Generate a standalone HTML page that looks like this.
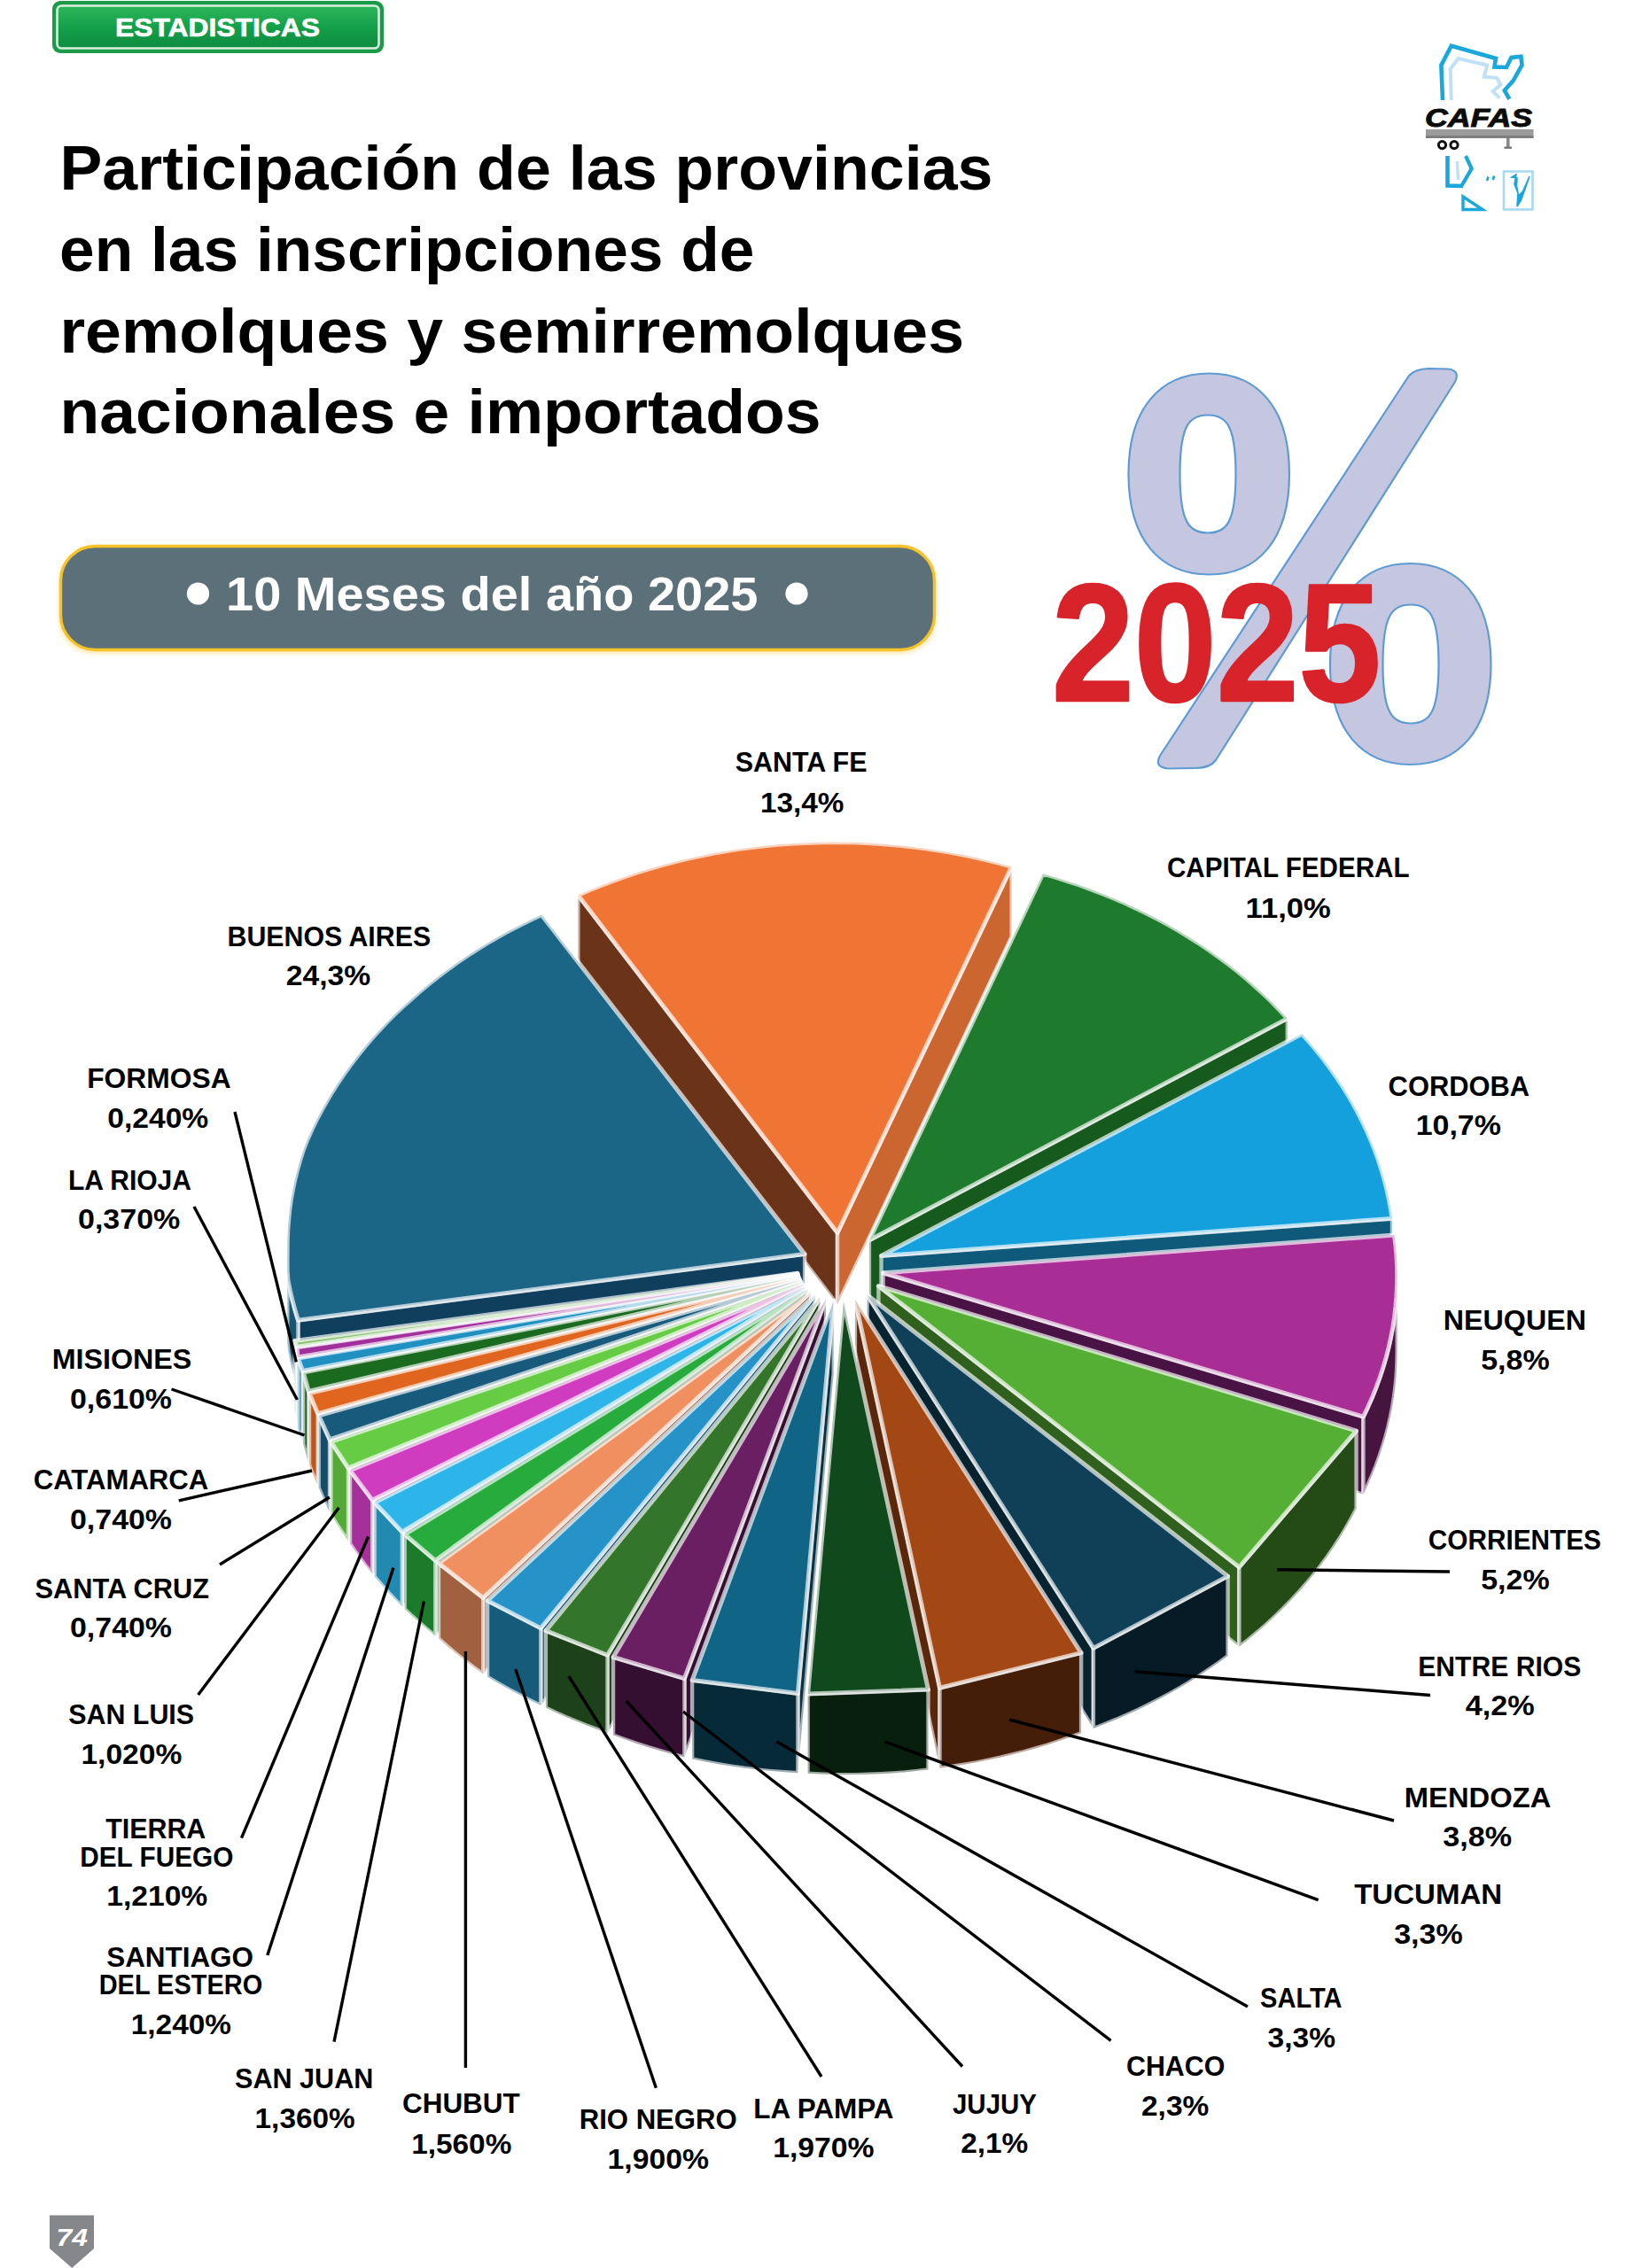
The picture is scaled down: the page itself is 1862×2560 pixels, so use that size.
<!DOCTYPE html>
<html><head><meta charset="utf-8"><title>Estadisticas</title>
<style>
html,body{margin:0;padding:0;background:#fff;}
body{width:1862px;height:2560px;overflow:hidden;font-family:"Liberation Sans",sans-serif;}
svg{display:block;}
</style></head><body>
<svg width="1862" height="2560" viewBox="0 0 1862 2560" font-family="Liberation Sans, sans-serif" font-weight="bold">
<defs>
<linearGradient id="gbadge" x1="0" y1="0" x2="0" y2="1"><stop offset="0" stop-color="#2FB65A"/><stop offset="0.5" stop-color="#13A04A"/><stop offset="1" stop-color="#0E8C40"/></linearGradient>
<filter id="soft" x="-5%" y="-20%" width="110%" height="140%"><feGaussianBlur stdDeviation="2.5"/></filter>
</defs>
<rect width="1862" height="2560" fill="#fff"/>

<rect x="59" y="1" width="374" height="59" rx="9" fill="#1B9A4A"/>
<rect x="64.5" y="6.5" width="363" height="48" rx="5" fill="url(#gbadge)" stroke="#D8F0DC" stroke-width="2.6"/>
<text x="130.0" y="41.4" font-size="30" textLength="231.0" lengthAdjust="spacingAndGlyphs" fill="#fff" stroke="#fff" stroke-width="0.6">ESTADISTICAS</text>
<text x="67.5" y="213.8" font-size="70.5" textLength="1053.0" lengthAdjust="spacingAndGlyphs" fill="#000" >Participación de las provincias</text>
<text x="67.0" y="305.5" font-size="70.5" textLength="784.5" lengthAdjust="spacingAndGlyphs" fill="#000" >en las inscripciones de</text>
<text x="67.5" y="397.5" font-size="70.5" textLength="1020.5" lengthAdjust="spacingAndGlyphs" fill="#000" >remolques y semirremolques</text>
<text x="67.5" y="489.0" font-size="70.5" textLength="859.0" lengthAdjust="spacingAndGlyphs" fill="#000" >nacionales e importados</text>
<rect x="66" y="617" width="991" height="121" rx="40" fill="#F5C228" opacity="0.35" filter="url(#soft)"/>
<rect x="68.5" y="616.5" width="986" height="117" rx="39" fill="#5C7079" stroke="#F5C229" stroke-width="3.4"/>
<text x="255.0" y="688.8" font-size="54.5" textLength="600.5" lengthAdjust="spacingAndGlyphs" fill="#fff" >10 Meses del año 2025</text>
<circle cx="223.5" cy="670" r="12.6" fill="#fff"/><circle cx="899" cy="670" r="12.6" fill="#fff"/>
<path fill-rule="evenodd" fill="#C5C6DF" stroke="#5E9BD3" stroke-width="2.2" stroke-linejoin="round" d="M1273.5,535 C1273.5,460 1310,421.5 1364.5,421.5 C1419,421.5 1455,460 1455,535 C1455,610 1419,648.5 1364.5,648.5 C1310,648.5 1273.5,610 1273.5,535 Z M1331.5,535 C1331.5,590 1342,601.5 1363,601.5 C1384,601.5 1394.5,590 1394.5,535 C1394.5,480 1384,468.5 1363,468.5 C1342,468.5 1331.5,480 1331.5,535 Z"/>
<path fill="#C5C6DF" stroke="#5E9BD3" stroke-width="2.2" stroke-linejoin="round" d="M1590,424 Q1597,416.5 1612,416 L1634,416.5 Q1648,418 1642,431 L1372,858 Q1366,866.5 1350,867 L1318,867.5 Q1302,866 1309,853 Z"/>
<path fill-rule="evenodd" fill="#C5C6DF" stroke="#5E9BD3" stroke-width="2.2" stroke-linejoin="round" d="M1501,749.5 C1501,674.5 1537,636 1591.5,636 C1646,636 1682.5,674.5 1682.5,749.5 C1682.5,824.5 1646,863 1591.5,863 C1537,863 1501,824.5 1501,749.5 Z M1560.5,749.5 C1560.5,805 1571,816.5 1592,816.5 C1613,816.5 1623.5,805 1623.5,749.5 C1623.5,694 1613,682.5 1592,682.5 C1571,682.5 1560.5,694 1560.5,749.5 Z"/>
<text x="1187.0" y="791.2" font-size="190" textLength="371.5" lengthAdjust="spacingAndGlyphs" fill="#D8232A" stroke="#D8232A" stroke-width="2.6" stroke-linejoin="round">2025</text>
<g fill="none" stroke-linejoin="miter">
<polyline points="1637.8,113 1636.7,78 1645.5,66 1678.2,73.6 1674.9,86.7 1689,87.8 1693.5,95.5 1684.7,103 1692.4,110.7" stroke="#BFE1F3" stroke-width="4"/>
<polyline points="1628,113 1626.4,73.6 1637.8,51.8 1688,66 1686.4,75.5 1700,76 1705.5,64.9 1716.4,63.8 1717.5,73.6 1707.6,91.1 1697.8,102 1703.3,111.8" stroke="#19A7DC" stroke-width="4.6"/>
<polyline points="1633.5,176 1633.5,209.5 1651,210" stroke="#19A7DC" stroke-width="4.6"/>
<polyline points="1654,176 1660.7,190.4 1649.8,209" stroke="#19A7DC" stroke-width="4.2"/>
<line x1="1644.4" y1="182" x2="1645.5" y2="203" stroke="#BFE1F3" stroke-width="3.5"/>
<polygon points="1651,222 1651,236.5 1673,236.5" stroke="#19A7DC" stroke-width="3.4"/>
<line x1="1679.5" y1="199.5" x2="1678" y2="204" stroke="#19A7DC" stroke-width="2.6"/>
<line x1="1686.2" y1="198.5" x2="1684.7" y2="203" stroke="#19A7DC" stroke-width="2.6"/>
<rect x="1697" y="193.5" width="32.5" height="43" stroke="#A9D9F1" stroke-width="2.6"/>
<polygon points="1706,200 1711,197 1709,208 1713,218 1712,233 1716.5,226 1726,199 1718.5,216 1713.5,221 1711.5,210 1712,201" fill="#19A7DC" stroke="#19A7DC" stroke-width="1.6"/>
</g>
<rect x="1609" y="146" width="121.5" height="10" fill="#9B9B9B"/><rect x="1609" y="153" width="121.5" height="3" fill="#7E7E7E"/>
<rect x="1700" y="156" width="3.6" height="11" fill="#8A8A8A"/><rect x="1697.5" y="165.5" width="8.5" height="2.4" fill="#777"/>
<circle cx="1627.5" cy="163.6" r="4.1" fill="#fff" stroke="#111" stroke-width="3"/><circle cx="1641" cy="163.6" r="4.1" fill="#fff" stroke="#111" stroke-width="3"/>

<text x="1608.0" y="142.6" font-size="30" textLength="121.0" lengthAdjust="spacingAndGlyphs" fill="#0c0c0c" font-style="italic" stroke="#0c0c0c" stroke-width="0.9">CAFAS</text>
<polygon points="56,2500.5 106,2500.5 106,2538 81.3,2560 56,2538" fill="#85878A"/>
<text x="63.5" y="2535.3" font-size="27.5" textLength="35.5" lengthAdjust="spacingAndGlyphs" fill="#fff" font-style="italic">74</text>
<g id="pie"><polygon points="945.0,1391.6 652.3,1010.4 652.3,1089.4 945.0,1472.5" fill="#6B3318" stroke="#fff" stroke-opacity="0.62" stroke-width="4.4" stroke-linejoin="round"/>
<polygon points="945.0,1391.6 1141.6,978.3 1141.6,1057.3 945.0,1472.5" fill="#CC6630" stroke="#fff" stroke-opacity="0.62" stroke-width="4.4" stroke-linejoin="round"/>
<polygon points="980.9,1400.0 1452.8,1149.6 1452.8,1228.9 980.9,1481.2" fill="#165A1E" stroke="#fff" stroke-opacity="0.62" stroke-width="4.4" stroke-linejoin="round"/>
<polygon points="908.1,1415.6 336.4,1490.2 336.4,1569.7 908.1,1496.7" fill="#0F3F5C" stroke="#fff" stroke-opacity="0.62" stroke-width="4.4" stroke-linejoin="round"/>
<polygon points="336.4,1490.2 333.1,1479.6 330.2,1468.8 327.6,1458.0 325.4,1447.1 324.2,1436.1 324.0,1425.1 324.3,1414.1 324.3,1493.1 324.0,1504.1 324.2,1515.1 325.4,1526.1 327.6,1537.0 330.2,1547.8 333.1,1558.8 336.4,1569.7" fill="#175673" stroke="#fff" stroke-opacity="0.62" stroke-width="4.4" stroke-linejoin="round"/>
<polygon points="994.5,1417.5 1571.0,1375.4 1571.0,1459.3 994.5,1499.1" fill="#0F5A7A" stroke="#fff" stroke-opacity="0.62" stroke-width="4.4" stroke-linejoin="round"/>
<polygon points="996.6,1436.8 1538.5,1599.2 1538.5,1686.8 996.6,1518.7" fill="#4A1345" stroke="#fff" stroke-opacity="0.62" stroke-width="4.4" stroke-linejoin="round"/>
<polygon points="1576.7,1435.7 1576.6,1446.8 1576.2,1458.0 1575.5,1469.1 1574.4,1480.2 1572.9,1491.2 1571.1,1502.3 1568.9,1513.3 1566.3,1524.2 1563.4,1535.2 1560.1,1546.0 1556.5,1556.8 1552.5,1567.5 1548.2,1578.2 1543.5,1588.7 1538.5,1599.2 1538.5,1686.8 1543.5,1676.2 1548.2,1665.5 1552.5,1654.7 1556.5,1643.8 1560.1,1632.8 1563.4,1621.8 1566.3,1610.7 1568.9,1599.5 1571.1,1588.4 1572.9,1577.1 1574.4,1565.9 1575.5,1554.6 1576.2,1543.3 1576.6,1532.0 1576.7,1520.7" fill="#47133F" stroke="#fff" stroke-opacity="0.62" stroke-width="4.4" stroke-linejoin="round"/>
<polygon points="900.0,1437.2 334.9,1520.1 334.9,1600.1 900.0,1518.7" fill="#446038" stroke="#fff" stroke-opacity="0.62" stroke-width="4.4" stroke-linejoin="round"/>
<polygon points="334.9,1520.1 332.6,1513.4 332.6,1593.2 334.9,1600.1" fill="#74A35F" stroke="#fff" stroke-opacity="0.62" stroke-width="4.4" stroke-linejoin="round"/>
<polygon points="900.1,1438.0 336.1,1531.9 336.1,1612.1 900.1,1519.5" fill="#50184D" stroke="#fff" stroke-opacity="0.62" stroke-width="4.4" stroke-linejoin="round"/>
<polygon points="336.1,1531.9 335.1,1520.9 335.1,1600.9 336.1,1612.1" fill="#882983" stroke="#fff" stroke-opacity="0.62" stroke-width="4.4" stroke-linejoin="round"/>
<polygon points="900.5,1439.1 341.6,1547.5 341.6,1628.0 900.5,1520.6" fill="#104860" stroke="#fff" stroke-opacity="0.62" stroke-width="4.4" stroke-linejoin="round"/>
<polygon points="341.6,1547.5 336.4,1533.1 336.4,1613.3 338.9,1620.6 341.6,1628.0" fill="#1B7AA3" stroke="#fff" stroke-opacity="0.62" stroke-width="4.4" stroke-linejoin="round"/>
<polygon points="901.0,1440.7 348.2,1570.5 348.2,1651.5 901.0,1522.2" fill="#0D3510" stroke="#fff" stroke-opacity="0.62" stroke-width="4.4" stroke-linejoin="round"/>
<polygon points="348.2,1570.5 342.2,1549.0 342.2,1629.5 345.0,1640.5 348.2,1651.5" fill="#165A1B" stroke="#fff" stroke-opacity="0.62" stroke-width="4.4" stroke-linejoin="round"/>
<polygon points="901.8,1442.6 358.7,1595.6 358.7,1677.0 901.8,1524.2" fill="#70320F" stroke="#fff" stroke-opacity="0.62" stroke-width="4.4" stroke-linejoin="round"/>
<polygon points="358.7,1595.6 349.0,1572.5 349.0,1653.4 352.0,1661.3 355.3,1669.2 358.7,1677.0" fill="#BE561A" stroke="#fff" stroke-opacity="0.62" stroke-width="4.4" stroke-linejoin="round"/>
<polygon points="902.8,1444.8 372.0,1624.9 372.0,1706.9 902.8,1526.4" fill="#0C2D3E" stroke="#fff" stroke-opacity="0.62" stroke-width="4.4" stroke-linejoin="round"/>
<polygon points="372.0,1624.9 359.7,1597.8 359.7,1679.2 363.6,1688.5 367.6,1697.7 372.0,1706.9" fill="#144C69" stroke="#fff" stroke-opacity="0.62" stroke-width="4.4" stroke-linejoin="round"/>
<polygon points="904.2,1447.2 393.0,1657.0 393.0,1739.6 904.2,1528.9" fill="#336622" stroke="#fff" stroke-opacity="0.62" stroke-width="4.4" stroke-linejoin="round"/>
<polygon points="393.0,1657.0 373.4,1627.4 373.4,1709.4 379.6,1719.6 386.2,1729.7 393.0,1739.6" fill="#55A938" stroke="#fff" stroke-opacity="0.62" stroke-width="4.4" stroke-linejoin="round"/>
<polygon points="906.1,1450.0 420.2,1693.2 420.2,1776.6 906.1,1531.7" fill="#681E60" stroke="#fff" stroke-opacity="0.62" stroke-width="4.4" stroke-linejoin="round"/>
<polygon points="420.2,1693.2 395.0,1659.7 395.0,1742.4 400.9,1751.1 407.1,1759.7 413.5,1768.2 420.2,1776.6" fill="#A53099" stroke="#fff" stroke-opacity="0.62" stroke-width="4.4" stroke-linejoin="round"/>
<polygon points="991.4,1451.6 1398.4,1768.9 1398.4,1858.8 991.4,1533.8" fill="#2F601D" stroke="#fff" stroke-opacity="0.62" stroke-width="4.4" stroke-linejoin="round"/>
<polygon points="1530.6,1615.1 1398.4,1768.9 1398.4,1858.8 1409.0,1850.4 1419.4,1841.8 1429.4,1833.1 1439.1,1824.1 1448.6,1814.9 1457.7,1805.6 1466.5,1796.0 1475.0,1786.3 1483.2,1776.4 1491.0,1766.3 1498.5,1756.1 1505.6,1745.8 1512.4,1735.3 1518.8,1724.6 1524.9,1713.8 1530.6,1702.9" fill="#244A16" stroke="#fff" stroke-opacity="0.62" stroke-width="4.4" stroke-linejoin="round"/>
<polygon points="908.6,1452.9 453.8,1729.2 453.8,1813.4 908.6,1534.6" fill="#165A75" stroke="#fff" stroke-opacity="0.62" stroke-width="4.4" stroke-linejoin="round"/>
<polygon points="453.8,1729.2 422.6,1696.0 422.6,1779.5 430.1,1788.2 437.7,1796.8 445.7,1805.2 453.8,1813.4" fill="#2289B1" stroke="#fff" stroke-opacity="0.62" stroke-width="4.4" stroke-linejoin="round"/>
<polygon points="911.4,1455.6 491.2,1761.4 491.2,1846.4 911.4,1537.4" fill="#14561E" stroke="#fff" stroke-opacity="0.62" stroke-width="4.4" stroke-linejoin="round"/>
<polygon points="491.2,1761.4 456.7,1731.9 456.7,1816.2 465.0,1824.0 473.5,1831.6 482.3,1839.1 491.2,1846.4" fill="#1C7B2B" stroke="#fff" stroke-opacity="0.62" stroke-width="4.4" stroke-linejoin="round"/>
<polygon points="915.1,1458.6 545.2,1803.6 545.2,1889.6 915.1,1540.5" fill="#784830" stroke="#fff" stroke-opacity="0.62" stroke-width="4.4" stroke-linejoin="round"/>
<polygon points="545.2,1803.6 495.0,1764.4 495.0,1849.5 504.5,1857.9 514.3,1866.1 524.3,1874.1 534.7,1882.0 545.2,1889.6" fill="#A16140" stroke="#fff" stroke-opacity="0.62" stroke-width="4.4" stroke-linejoin="round"/>
<polygon points="920.0,1461.6 610.3,1837.9 610.3,1924.9 920.0,1543.6" fill="#124A64" stroke="#fff" stroke-opacity="0.62" stroke-width="4.4" stroke-linejoin="round"/>
<polygon points="610.3,1837.9 550.1,1806.7 550.1,1892.8 561.7,1899.7 573.6,1906.3 585.6,1912.8 597.9,1918.9 610.3,1924.9" fill="#175B7B" stroke="#fff" stroke-opacity="0.62" stroke-width="4.4" stroke-linejoin="round"/>
<polygon points="978.6,1461.8 1233.9,1860.4 1233.9,1951.0 978.6,1544.1" fill="#082330" stroke="#fff" stroke-opacity="0.62" stroke-width="4.4" stroke-linejoin="round"/>
<polygon points="1385.6,1779.1 1233.9,1860.4 1233.9,1951.0 1246.6,1946.1 1259.3,1940.9 1271.7,1935.5 1284.0,1929.9 1296.1,1924.0 1308.0,1918.0 1319.8,1911.6 1331.3,1905.1 1342.6,1898.3 1353.7,1891.3 1364.5,1884.1 1375.2,1876.7 1385.6,1869.1" fill="#061B25" stroke="#fff" stroke-opacity="0.62" stroke-width="4.4" stroke-linejoin="round"/>
<polygon points="925.5,1464.3 685.5,1868.3 685.5,1956.2 925.5,1546.3" fill="#1A3A15" stroke="#fff" stroke-opacity="0.62" stroke-width="4.4" stroke-linejoin="round"/>
<polygon points="685.5,1868.3 615.9,1840.6 615.9,1927.6 627.1,1932.9 638.5,1938.0 650.1,1942.8 661.8,1947.5 673.6,1951.9 685.5,1956.2" fill="#1D4118" stroke="#fff" stroke-opacity="0.62" stroke-width="4.4" stroke-linejoin="round"/>
<polygon points="932.0,1466.5 772.4,1894.7 772.4,1983.5 932.0,1548.7" fill="#361032" stroke="#fff" stroke-opacity="0.62" stroke-width="4.4" stroke-linejoin="round"/>
<polygon points="772.4,1894.7 692.0,1870.5 692.0,1958.5 705.1,1963.3 718.2,1967.9 731.6,1972.2 745.1,1976.2 758.7,1980.0 772.4,1983.5" fill="#350F31" stroke="#fff" stroke-opacity="0.62" stroke-width="4.4" stroke-linejoin="round"/>
<polygon points="964.9,1467.1 1060.5,1905.2 1060.5,1995.7 964.9,1549.4" fill="#5A270B" stroke="#fff" stroke-opacity="0.62" stroke-width="4.4" stroke-linejoin="round"/>
<polygon points="1220.1,1865.6 1060.5,1905.2 1060.5,1995.7 1074.3,1993.8 1088.0,1991.7 1101.7,1989.3 1115.3,1986.6 1128.8,1983.7 1142.2,1980.5 1155.5,1977.1 1168.7,1973.4 1181.8,1969.5 1194.7,1965.3 1207.5,1960.9 1220.1,1956.3" fill="#441E08" stroke="#fff" stroke-opacity="0.62" stroke-width="4.4" stroke-linejoin="round"/>
<polygon points="940.7,1468.3 900.4,1911.5 900.4,2001.2 940.7,1550.5" fill="#083244" stroke="#fff" stroke-opacity="0.62" stroke-width="4.4" stroke-linejoin="round"/>
<polygon points="900.4,1911.5 781.1,1896.6 781.1,1985.4 795.8,1988.5 810.5,1991.2 825.4,1993.6 840.3,1995.8 855.3,1997.6 870.3,1999.1 885.3,2000.3 900.4,2001.2" fill="#072A39" stroke="#fff" stroke-opacity="0.62" stroke-width="4.4" stroke-linejoin="round"/>
<polygon points="1047.5,1907.1 911.6,1912.0 911.6,2001.8 925.2,2002.5 938.8,2003.0 952.5,2003.2 966.1,2003.1 979.7,2002.8 993.3,2002.2 1006.9,2001.4 1020.5,2000.4 1034.0,1999.1 1047.5,1997.5" fill="#071F0C" stroke="#fff" stroke-opacity="0.62" stroke-width="4.4" stroke-linejoin="round"/>
<polygon points="945.0,1391.6 652.3,1010.4 665.3,1004.7 678.6,999.4 691.9,994.3 705.5,989.4 719.2,984.8 733.1,980.6 747.1,976.5 761.2,972.8 775.5,969.4 789.8,966.2 804.3,963.3 818.8,960.7 833.5,958.4 848.2,956.4 862.9,954.7 877.8,953.3 892.6,952.2 907.5,951.4 922.4,950.9 937.3,950.6 952.2,950.7 967.1,951.1 982.0,951.7 996.9,952.7 1011.7,953.9 1026.4,955.5 1041.1,957.3 1055.8,959.5 1070.3,961.9 1084.8,964.6 1099.2,967.6 1113.4,970.9 1127.6,974.4 1141.6,978.3" fill="#F07535" stroke="#fff" stroke-opacity="0.68" stroke-width="5" stroke-linejoin="round"/>
<polygon points="980.9,1400.0 1176.9,986.2 1190.7,990.2 1204.4,994.5 1217.9,999.0 1231.2,1003.8 1244.4,1008.9 1257.4,1014.2 1270.3,1019.8 1282.9,1025.7 1295.3,1031.7 1307.6,1038.1 1319.6,1044.6 1331.4,1051.4 1342.9,1058.5 1354.2,1065.7 1365.3,1073.2 1376.1,1080.9 1386.7,1088.8 1397.0,1096.9 1407.0,1105.2 1416.8,1113.8 1426.2,1122.5 1435.4,1131.3 1444.2,1140.4 1452.8,1149.6" fill="#1E7A2C" stroke="#fff" stroke-opacity="0.68" stroke-width="5" stroke-linejoin="round"/>
<polygon points="994.5,1417.5 1469.2,1167.0 1477.5,1176.2 1485.5,1185.7 1493.1,1195.2 1500.4,1205.0 1507.4,1214.8 1514.1,1224.8 1520.5,1235.0 1526.5,1245.2 1532.1,1255.6 1537.4,1266.1 1542.4,1276.7 1547.0,1287.3 1551.3,1298.1 1555.2,1309.0 1558.7,1319.9 1561.9,1330.9 1564.7,1342.0 1567.2,1353.1 1569.3,1364.2 1571.0,1375.4" fill="#14A0DC" stroke="#fff" stroke-opacity="0.68" stroke-width="5" stroke-linejoin="round"/>
<polygon points="996.6,1436.8 1573.5,1394.1 1574.9,1405.6 1575.9,1417.1 1576.5,1428.7 1576.7,1440.3 1576.5,1451.9 1575.9,1463.5 1574.9,1475.0 1573.6,1486.6 1571.8,1498.1 1569.6,1509.6 1567.1,1521.0 1564.2,1532.4 1560.8,1543.7 1557.1,1555.0 1553.0,1566.2 1548.6,1577.3 1543.7,1588.3 1538.5,1599.2" fill="#A82E96" stroke="#fff" stroke-opacity="0.68" stroke-width="5" stroke-linejoin="round"/>
<polygon points="991.4,1451.6 1530.6,1615.1 1398.4,1768.9" fill="#55AF35" stroke="#fff" stroke-opacity="0.68" stroke-width="5" stroke-linejoin="round"/>
<polygon points="978.6,1461.8 1385.6,1779.1 1233.9,1860.4" fill="#0F4058" stroke="#fff" stroke-opacity="0.68" stroke-width="5" stroke-linejoin="round"/>
<polygon points="964.9,1467.1 1220.1,1865.6 1060.5,1905.2" fill="#A34714" stroke="#fff" stroke-opacity="0.68" stroke-width="5" stroke-linejoin="round"/>
<polygon points="951.9,1468.9 1047.5,1907.1 911.6,1912.0" fill="#10491C" stroke="#fff" stroke-opacity="0.68" stroke-width="5" stroke-linejoin="round"/>
<polygon points="940.7,1468.3 900.4,1911.5 781.1,1896.6" fill="#106587" stroke="#fff" stroke-opacity="0.68" stroke-width="5" stroke-linejoin="round"/>
<polygon points="932.0,1466.5 772.4,1894.7 692.0,1870.5" fill="#6B1F63" stroke="#fff" stroke-opacity="0.68" stroke-width="5" stroke-linejoin="round"/>
<polygon points="925.5,1464.3 685.5,1868.3 615.9,1840.6" fill="#33752A" stroke="#fff" stroke-opacity="0.68" stroke-width="5" stroke-linejoin="round"/>
<polygon points="920.0,1461.6 610.3,1837.9 550.1,1806.7" fill="#2593C8" stroke="#fff" stroke-opacity="0.68" stroke-width="5" stroke-linejoin="round"/>
<polygon points="915.1,1458.6 545.2,1803.6 495.0,1764.4" fill="#F09060" stroke="#fff" stroke-opacity="0.68" stroke-width="5" stroke-linejoin="round"/>
<polygon points="911.4,1455.6 491.2,1761.4 456.7,1731.9" fill="#27AB3C" stroke="#fff" stroke-opacity="0.68" stroke-width="5" stroke-linejoin="round"/>
<polygon points="908.6,1452.9 453.8,1729.2 422.6,1696.0" fill="#2DB5EA" stroke="#fff" stroke-opacity="0.68" stroke-width="5" stroke-linejoin="round"/>
<polygon points="906.1,1450.0 420.2,1693.2 395.0,1659.7" fill="#D03CC0" stroke="#fff" stroke-opacity="0.68" stroke-width="5" stroke-linejoin="round"/>
<polygon points="904.2,1447.2 393.0,1657.0 373.4,1627.4" fill="#66CC44" stroke="#fff" stroke-opacity="0.68" stroke-width="5" stroke-linejoin="round"/>
<polygon points="902.8,1444.8 372.0,1624.9 359.7,1597.8" fill="#175A7C" stroke="#fff" stroke-opacity="0.68" stroke-width="5" stroke-linejoin="round"/>
<polygon points="901.8,1442.6 358.7,1595.6 349.0,1572.5" fill="#E0651E" stroke="#fff" stroke-opacity="0.68" stroke-width="5" stroke-linejoin="round"/>
<polygon points="901.0,1440.7 348.2,1570.5 342.2,1549.0" fill="#1A6A20" stroke="#fff" stroke-opacity="0.68" stroke-width="5" stroke-linejoin="round"/>
<polygon points="900.5,1439.1 341.6,1547.5 336.4,1533.1" fill="#2090C0" stroke="#fff" stroke-opacity="0.68" stroke-width="5" stroke-linejoin="round"/>
<polygon points="900.1,1438.0 336.1,1531.9 335.1,1520.9" fill="#A0309A" stroke="#fff" stroke-opacity="0.68" stroke-width="5" stroke-linejoin="round"/>
<polygon points="900.0,1437.2 334.9,1520.1 332.6,1513.4" fill="#88C070" stroke="#fff" stroke-opacity="0.68" stroke-width="5" stroke-linejoin="round"/>
<polygon points="908.1,1415.6 336.4,1490.2 333.0,1479.1 330.0,1467.9 327.3,1456.6 325.0,1445.2 324.1,1433.8 324.1,1422.3 324.2,1410.8 324.3,1399.3 324.8,1387.9 325.7,1376.4 326.9,1364.9 328.5,1353.5 330.6,1342.1 333.0,1330.8 335.9,1319.5 339.1,1308.3 342.7,1297.1 347.0,1286.1 351.9,1275.2 357.1,1264.4 362.7,1253.8 368.6,1243.2 374.8,1232.8 381.4,1222.5 388.3,1212.3 395.5,1202.3 403.0,1192.4 410.8,1182.7 418.9,1173.1 427.3,1163.7 436.1,1154.4 445.1,1145.3 454.4,1136.5 464.1,1127.8 473.9,1119.2 483.9,1110.8 494.3,1102.6 504.9,1094.6 515.7,1086.8 526.8,1079.2 538.2,1071.8 549.8,1064.7 561.6,1057.8 573.7,1051.1 586.0,1044.7 598.5,1038.6 611.2,1032.6" fill="#1B6587" stroke="#fff" stroke-opacity="0.68" stroke-width="5" stroke-linejoin="round"/></g>
<line x1="265" y1="1255" x2="334.3" y2="1537.4" stroke="#000" stroke-width="3.4" stroke-linecap="butt"/>
<line x1="219" y1="1362" x2="335.4" y2="1580" stroke="#000" stroke-width="3.4" stroke-linecap="butt"/>
<line x1="193.5" y1="1568" x2="343.5" y2="1620" stroke="#000" stroke-width="3.4" stroke-linecap="butt"/>
<line x1="201.8" y1="1693.8" x2="352" y2="1660" stroke="#000" stroke-width="3.4" stroke-linecap="butt"/>
<line x1="248" y1="1766" x2="371.9" y2="1690" stroke="#000" stroke-width="3.4" stroke-linecap="butt"/>
<line x1="223.6" y1="1913" x2="382.4" y2="1701.7" stroke="#000" stroke-width="3.4" stroke-linecap="butt"/>
<line x1="272.5" y1="2074.7" x2="415.5" y2="1734.5" stroke="#000" stroke-width="3.4" stroke-linecap="butt"/>
<line x1="301.8" y1="2207" x2="443.9" y2="1769.6" stroke="#000" stroke-width="3.4" stroke-linecap="butt"/>
<line x1="377" y1="2304.7" x2="478.4" y2="1807.5" stroke="#000" stroke-width="3.4" stroke-linecap="butt"/>
<line x1="525.4" y1="2334" x2="525.4" y2="1864" stroke="#000" stroke-width="3.4" stroke-linecap="butt"/>
<line x1="740.3" y1="2356.7" x2="581.8" y2="1884" stroke="#000" stroke-width="3.4" stroke-linecap="butt"/>
<line x1="927" y1="2344" x2="641.8" y2="1892" stroke="#000" stroke-width="3.4" stroke-linecap="butt"/>
<line x1="1086" y1="2332.5" x2="706.7" y2="1920" stroke="#000" stroke-width="3.4" stroke-linecap="butt"/>
<line x1="1253.6" y1="2303.4" x2="771" y2="1932" stroke="#000" stroke-width="3.4" stroke-linecap="butt"/>
<line x1="1408" y1="2265" x2="876.5" y2="1966" stroke="#000" stroke-width="3.4" stroke-linecap="butt"/>
<line x1="1487.7" y1="2144.7" x2="998.7" y2="1966" stroke="#000" stroke-width="3.4" stroke-linecap="butt"/>
<line x1="1573" y1="2055" x2="1139" y2="1941" stroke="#000" stroke-width="3.4" stroke-linecap="butt"/>
<line x1="1614" y1="1913.5" x2="1280.4" y2="1886.7" stroke="#000" stroke-width="3.4" stroke-linecap="butt"/>
<line x1="1636" y1="1774" x2="1441.3" y2="1771.8" stroke="#000" stroke-width="3.4" stroke-linecap="butt"/>
<text x="256.6" y="1068.0" font-size="31" textLength="229.5" lengthAdjust="spacingAndGlyphs" fill="#000" >BUENOS AIRES</text>
<text x="322.8" y="1112.3" font-size="31" textLength="95.5" lengthAdjust="spacingAndGlyphs" fill="#000" >24,3%</text>
<text x="98.2" y="1228.0" font-size="31" textLength="162.5" lengthAdjust="spacingAndGlyphs" fill="#000" >FORMOSA</text>
<text x="121.2" y="1273.0" font-size="31" textLength="114.1" lengthAdjust="spacingAndGlyphs" fill="#000" >0,240%</text>
<text x="77.0" y="1343.0" font-size="31" textLength="139.0" lengthAdjust="spacingAndGlyphs" fill="#000" >LA RIOJA</text>
<text x="88.0" y="1387.0" font-size="31" textLength="115.3" lengthAdjust="spacingAndGlyphs" fill="#000" >0,370%</text>
<text x="58.7" y="1545.0" font-size="31" textLength="157.6" lengthAdjust="spacingAndGlyphs" fill="#000" >MISIONES</text>
<text x="79.0" y="1589.7" font-size="31" textLength="115.0" lengthAdjust="spacingAndGlyphs" fill="#000" >0,610%</text>
<text x="37.7" y="1681.0" font-size="31" textLength="197.6" lengthAdjust="spacingAndGlyphs" fill="#000" >CATAMARCA</text>
<text x="79.0" y="1726.0" font-size="31" textLength="115.0" lengthAdjust="spacingAndGlyphs" fill="#000" >0,740%</text>
<text x="39.5" y="1803.9" font-size="31" textLength="196.5" lengthAdjust="spacingAndGlyphs" fill="#000" >SANTA CRUZ</text>
<text x="79.0" y="1848.0" font-size="31" textLength="115.0" lengthAdjust="spacingAndGlyphs" fill="#000" >0,740%</text>
<text x="77.2" y="1946.0" font-size="31" textLength="141.9" lengthAdjust="spacingAndGlyphs" fill="#000" >SAN LUIS</text>
<text x="91.4" y="1990.5" font-size="31" textLength="113.9" lengthAdjust="spacingAndGlyphs" fill="#000" >1,020%</text>
<text x="119.2" y="2075.4" font-size="31" textLength="113.1" lengthAdjust="spacingAndGlyphs" fill="#000" >TIERRA</text>
<text x="90.2" y="2106.6" font-size="31" textLength="173.1" lengthAdjust="spacingAndGlyphs" fill="#000" >DEL FUEGO</text>
<text x="120.2" y="2151.3" font-size="31" textLength="114.1" lengthAdjust="spacingAndGlyphs" fill="#000" >1,210%</text>
<text x="120.2" y="2220.0" font-size="31" textLength="165.8" lengthAdjust="spacingAndGlyphs" fill="#000" >SANTIAGO</text>
<text x="111.7" y="2251.3" font-size="31" textLength="184.5" lengthAdjust="spacingAndGlyphs" fill="#000" >DEL ESTERO</text>
<text x="147.8" y="2296.4" font-size="31" textLength="113.1" lengthAdjust="spacingAndGlyphs" fill="#000" >1,240%</text>
<text x="265.0" y="2357.3" font-size="31" textLength="156.3" lengthAdjust="spacingAndGlyphs" fill="#000" >SAN JUAN</text>
<text x="287.6" y="2402.4" font-size="31" textLength="113.0" lengthAdjust="spacingAndGlyphs" fill="#000" >1,360%</text>
<text x="454.0" y="2385.4" font-size="31" textLength="132.7" lengthAdjust="spacingAndGlyphs" fill="#000" >CHUBUT</text>
<text x="464.2" y="2430.5" font-size="31" textLength="113.1" lengthAdjust="spacingAndGlyphs" fill="#000" >1,560%</text>
<text x="653.7" y="2403.4" font-size="31" textLength="178.0" lengthAdjust="spacingAndGlyphs" fill="#000" >RIO NEGRO</text>
<text x="685.5" y="2448.0" font-size="31" textLength="114.4" lengthAdjust="spacingAndGlyphs" fill="#000" >1,900%</text>
<text x="850.2" y="2390.6" font-size="31" textLength="158.4" lengthAdjust="spacingAndGlyphs" fill="#000" >LA PAMPA</text>
<text x="872.2" y="2435.2" font-size="31" textLength="114.4" lengthAdjust="spacingAndGlyphs" fill="#000" >1,970%</text>
<text x="1075.0" y="2385.5" font-size="31" textLength="94.9" lengthAdjust="spacingAndGlyphs" fill="#000" >JUJUY</text>
<text x="1084.2" y="2430.0" font-size="31" textLength="76.1" lengthAdjust="spacingAndGlyphs" fill="#000" >2,1%</text>
<text x="1271.0" y="2343.0" font-size="31" textLength="111.3" lengthAdjust="spacingAndGlyphs" fill="#000" >CHACO</text>
<text x="1288.0" y="2387.7" font-size="31" textLength="76.3" lengthAdjust="spacingAndGlyphs" fill="#000" >2,3%</text>
<text x="1422.0" y="2266.4" font-size="31" textLength="92.6" lengthAdjust="spacingAndGlyphs" fill="#000" >SALTA</text>
<text x="1430.5" y="2311.0" font-size="31" textLength="76.5" lengthAdjust="spacingAndGlyphs" fill="#000" >3,3%</text>
<text x="1528.2" y="2149.0" font-size="31" textLength="166.9" lengthAdjust="spacingAndGlyphs" fill="#000" >TUCUMAN</text>
<text x="1573.2" y="2193.6" font-size="31" textLength="77.6" lengthAdjust="spacingAndGlyphs" fill="#000" >3,3%</text>
<text x="1584.8" y="2039.5" font-size="31" textLength="165.5" lengthAdjust="spacingAndGlyphs" fill="#000" >MENDOZA</text>
<text x="1628.2" y="2084.0" font-size="31" textLength="77.9" lengthAdjust="spacingAndGlyphs" fill="#000" >3,8%</text>
<text x="1600.2" y="1891.5" font-size="31" textLength="184.1" lengthAdjust="spacingAndGlyphs" fill="#000" >ENTRE RIOS</text>
<text x="1653.7" y="1936.0" font-size="31" textLength="78.0" lengthAdjust="spacingAndGlyphs" fill="#000" >4,2%</text>
<text x="1611.8" y="1749.0" font-size="31" textLength="195.1" lengthAdjust="spacingAndGlyphs" fill="#000" >CORRIENTES</text>
<text x="1671.2" y="1793.8" font-size="31" textLength="77.5" lengthAdjust="spacingAndGlyphs" fill="#000" >5,2%</text>
<text x="1628.8" y="1501.0" font-size="31" textLength="161.1" lengthAdjust="spacingAndGlyphs" fill="#000" >NEUQUEN</text>
<text x="1671.2" y="1545.5" font-size="31" textLength="77.5" lengthAdjust="spacingAndGlyphs" fill="#000" >5,8%</text>
<text x="1566.6" y="1237.3" font-size="31" textLength="159.5" lengthAdjust="spacingAndGlyphs" fill="#000" >CORDOBA</text>
<text x="1597.7" y="1281.4" font-size="31" textLength="96.2" lengthAdjust="spacingAndGlyphs" fill="#000" >10,7%</text>
<text x="1316.9" y="990.4" font-size="31" textLength="273.6" lengthAdjust="spacingAndGlyphs" fill="#000" >CAPITAL FEDERAL</text>
<text x="1405.6" y="1035.6" font-size="31" textLength="96.2" lengthAdjust="spacingAndGlyphs" fill="#000" >11,0%</text>
<text x="829.7" y="871.2" font-size="31" textLength="148.8" lengthAdjust="spacingAndGlyphs" fill="#000" >SANTA FE</text>
<text x="858.0" y="916.5" font-size="31" textLength="94.5" lengthAdjust="spacingAndGlyphs" fill="#000" >13,4%</text>
</svg></body></html>
